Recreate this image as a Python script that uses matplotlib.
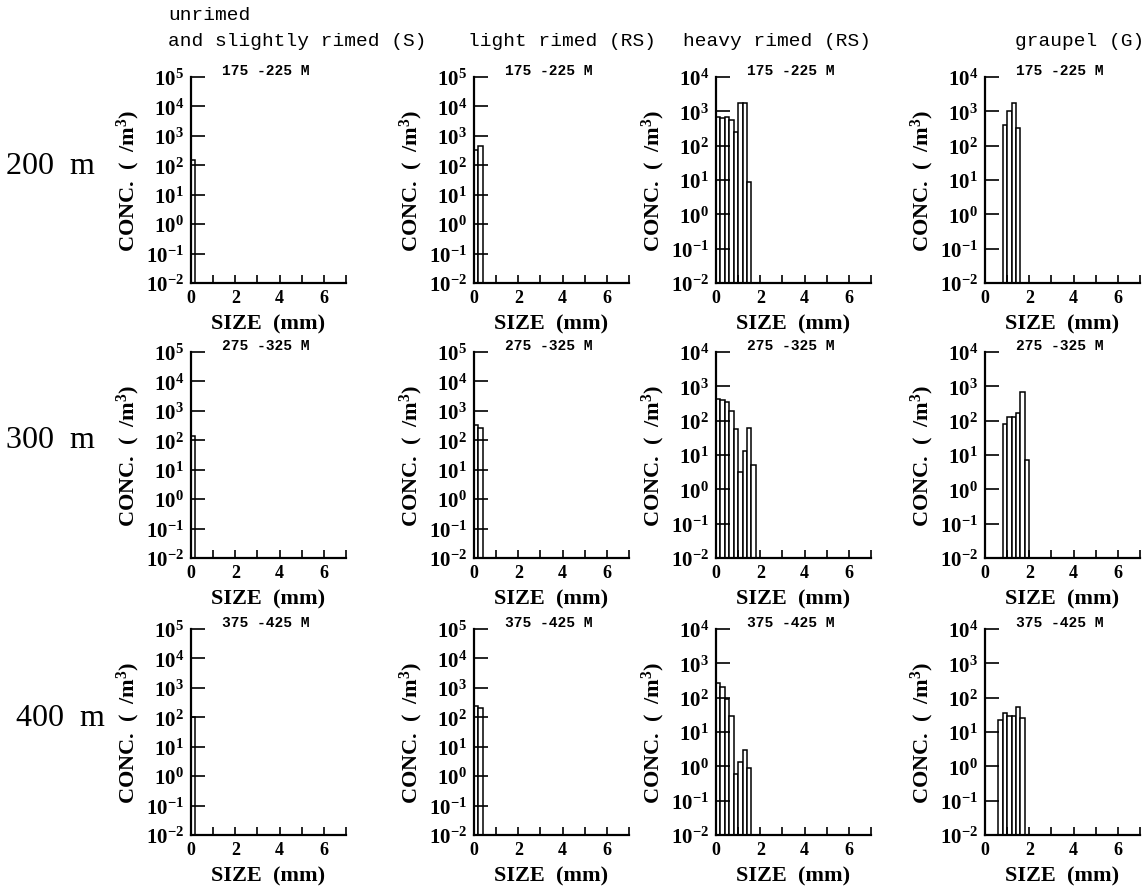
import matplotlib
matplotlib.use('Agg')
import matplotlib.pyplot as plt
from matplotlib.ticker import FixedLocator, FixedFormatter, NullLocator

plt.rcParams['font.family'] = ['Liberation Serif', 'DejaVu Serif']
plt.rcParams['mathtext.fontset'] = 'custom'
plt.rcParams['mathtext.rm'] = 'Liberation Serif:bold'
plt.rcParams['mathtext.bf'] = 'Liberation Serif:bold'
plt.rcParams['mathtext.it'] = 'Liberation Serif:bold'

# column / row labels
col_titles = ['light rimed (RS)', 'heavy rimed (RS)', 'graupel (G)']
row_labels = ['200  m', '300  m', '400  m']
layer_labels = ['175 -225 M', '275 -325 M', '375 -425 M']

# size bins are 0.2 mm wide, value = concentration (/m^3) per bin
bin_width = 0.2
unrimed_200 = [150]
unrimed_300 = [140]
unrimed_400 = [100]
light_200 = [340, 450]
light_300 = [340, 260]
light_400 = [240, 200]
heavy_200 = [700, 650, 700, 550, 250, 1800, 1700, 9]
heavy_300 = [420, 400, 340, 195, 58, 3.2, 13, 63, 5]
heavy_400 = [270, 200, 90, 30, 0.6, 1.3, 3, 0.9]
graupel_200 = [390, 1050, 1800, 320]
graupel_300 = [80, 130, 130, 170, 700, 7]
graupel_400 = [22, 36, 30, 30, 53, 25]

# first bin (mm) for each panel
start_unrimed = [0.0, 0.0, 0.0]
start_light = [0.0, 0.0, 0.0]
start_heavy = [0.0, 0.0, 0.0]
start_graupel = [0.8, 0.8, 0.6]

# top of y range (decade exponent) per column
ytop_exp = [5, 5, 4, 4]

panels = [
    [(start_unrimed[0], unrimed_200), (start_light[0], light_200),
     (start_heavy[0], heavy_200), (start_graupel[0], graupel_200)],
    [(start_unrimed[1], unrimed_300), (start_light[1], light_300),
     (start_heavy[1], heavy_300), (start_graupel[1], graupel_300)],
    [(start_unrimed[2], unrimed_400), (start_light[2], light_400),
     (start_heavy[2], heavy_400), (start_graupel[2], graupel_400)],
]

W, H = 1142, 887
fig = plt.figure(figsize=(W / 100, H / 100), dpi=100)

col_left = [191, 474, 716, 985]
row_top = [78, 353, 630]
ax_w, ax_h = 155, 206

for r in range(3):
    for c in range(4):
        x0 = col_left[c] / W
        y0 = 1 - (row_top[r] + ax_h) / H
        ax = fig.add_axes([x0, y0, ax_w / W, ax_h / H])
        start, vals = panels[r][c]
        lefts = [start + i * bin_width for i in range(len(vals))]
        ax.bar(lefts, vals, width=bin_width, align='edge', bottom=1e-2,
               facecolor='white', edgecolor='black', linewidth=1.1)
        ax.set_yscale('log')
        ax.set_ylim(1e-2, 10.0 ** ytop_exp[c])
        ax.set_xlim(0, 7)
        exps = list(range(-2, ytop_exp[c] + 1))
        ax.yaxis.set_major_locator(FixedLocator([10.0 ** e for e in exps]))
        ax.yaxis.set_major_formatter(FixedFormatter([r'$10^{%d}$' % e for e in exps]))
        ax.yaxis.set_minor_locator(NullLocator())
        ax.xaxis.set_major_locator(FixedLocator([0, 2, 4, 6]))
        ax.xaxis.set_major_formatter(FixedFormatter(['0', '2', '4', '6']))
        ax.xaxis.set_minor_locator(FixedLocator([1, 3, 5, 7]))
        ax.tick_params(axis='y', which='both', direction='in', length=10, width=1.2,
                       pad=5, labelsize=15)
        ax.tick_params(axis='x', which='both', direction='in', length=6, width=1.2,
                       pad=4, labelsize=13)
        for lab in ax.get_xticklabels():
            lab.set_fontweight('bold')
        for s in ['top', 'right']:
            ax.spines[s].set_visible(False)
        for s in ['left', 'bottom']:
            ax.spines[s].set_linewidth(1.6)
        ax.set_xlabel('SIZE  (mm)', fontsize=16, fontweight='bold', labelpad=6)
        ax.set_ylabel(r'CONC.  (  /m$^{3}$)', fontsize=16, fontweight='bold', labelpad=3)
        ax.text(0.48, 1.035, layer_labels[r], transform=ax.transAxes,
                ha='center', va='center', fontsize=10.5, fontweight='bold',
                family='Liberation Mono')
        ax.patch.set_visible(False)

# row labels
row_x = [6, 6, 16]
for r in range(3):
    yc = row_top[r] + 88
    fig.text(row_x[r] / W, 1 - yc / H, row_labels[r], fontsize=23, ha='left', va='center')

# column titles
fig.text(168 / W, 1 - 15 / H, 'unrimed', family='Liberation Mono', fontsize=14,
         ha='left', va='center')
fig.text(168 / W, 1 - 42 / H, 'and slightly rimed (S)', family='Liberation Mono',
         fontsize=14, ha='left', va='center')
title_x = [468, 683, 1015]
for t, x in zip(col_titles, title_x):
    fig.text(x / W, 1 - 42 / H, t, family='Liberation Mono', fontsize=14,
             ha='left', va='center')

fig.savefig('out.png', dpi=100, facecolor='white')
